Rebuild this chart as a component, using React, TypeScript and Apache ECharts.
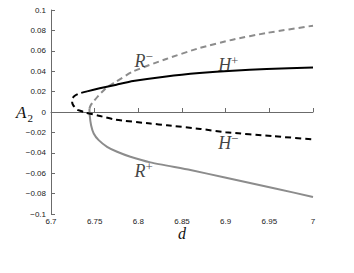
import React, { useEffect, useRef } from "react";
import * as echarts from "echarts";

// H+ branch (black solid)
const hPlusD = [6.7413, 6.7557, 6.775, 6.794, 6.832, 6.87, 6.908, 6.947, 7.0];
const hPlusA = [0.0202, 0.0232, 0.0268, 0.0303, 0.0349, 0.0382, 0.0405, 0.0421, 0.0437];

// H- branch incl. unstable nose (black dashed)
const hMinusD = [6.7413, 6.7317, 6.7265, 6.7242, 6.7242, 6.7255, 6.7299, 6.7336, 6.7394, 6.7546, 6.7737, 6.8138, 6.8328, 6.871, 6.9, 6.954, 7.0];
const hMinusA = [0.0202, 0.018, 0.0155, 0.0125, 0.0098, 0.0065, 0.0023, 0.0012, -0.0006, -0.0036, -0.0075, -0.0113, -0.013, -0.0166, -0.0198, -0.0237, -0.0268];

// R- branch (gray dashed)
const rMinusD = [6.744, 6.7452, 6.7475, 6.7546, 6.7642, 6.7737, 6.794, 6.832, 6.87, 6.908, 6.947, 7.0];
const rMinusA = [0.0033, 0.0062, 0.009, 0.0163, 0.0244, 0.0293, 0.0398, 0.052, 0.0627, 0.0709, 0.0775, 0.0846];

// R+ branch (gray solid)
const rPlusD = [6.744, 6.7443, 6.7459, 6.7489, 6.7546, 6.7642, 6.7757, 6.7909, 6.8138, 6.8597, 6.8978, 6.958, 7.0];
const rPlusA = [0.0033, -0.0032, -0.013, -0.0211, -0.0276, -0.0341, -0.039, -0.0439, -0.0494, -0.0569, -0.064, -0.0752, -0.0833];

// Curve labels
const labelNames = ["R", "H", "H", "R"];
const labelSigns = ["\u2212", "+", "\u2212", "+"];
const labelD = [6.806, 6.903, 6.903, 6.806];
const labelA = [0.0504, 0.0465, -0.0306, -0.058];

const zip = (xs: number[], ys: number[]) => xs.map((x, i) => [x, ys[i]]);

export default function App() {
  const ref = useRef<HTMLDivElement>(null);
  useEffect(() => {
    if (!ref.current) return;
    const chart = echarts.init(ref.current, null, { renderer: "svg" });
    const serif = "Liberation Serif";
    const sans = "Liberation Sans";
    const axisColor = "#6b6b6b";
    chart.setOption({
      animation: false,
      grid: { left: 51, right: 41, top: 10, bottom: 59 },
      xAxis: {
        type: "value",
        min: 6.7,
        max: 7,
        interval: 0.05,
        name: "{i|d}",
        nameLocation: "middle",
        nameGap: 11,
        nameMoveOverlap: false,
        nameTextStyle: {
          rich: { i: { fontFamily: serif, fontStyle: "italic", fontSize: 16, color: "#111" } },
        },
        axisLine: { lineStyle: { color: axisColor, width: 1 } },
        axisTick: { inside: true, length: 4, lineStyle: { color: axisColor } },
        axisLabel: {
          fontFamily: sans,
          fontSize: 8,
          color: "#222",
          margin: 3,
          formatter: (v: number) => String(Math.round(v * 100) / 100),
        },
        splitLine: { show: false },
      },
      yAxis: {
        type: "value",
        min: -0.1,
        max: 0.1,
        interval: 0.02,
        name: "{i|A}{s|2}",
        nameLocation: "middle",
        nameRotate: 0,
        nameGap: 18,
        nameMoveOverlap: false,
        nameTextStyle: {
          rich: {
            i: { fontFamily: serif, fontStyle: "italic", fontSize: 17, color: "#111", lineHeight: 22 },
            s: { fontFamily: serif, fontSize: 11, color: "#111", lineHeight: 10, verticalAlign: "bottom", padding: [0, 0, 0, 1] },
          },
        },
        axisLine: { show: true, lineStyle: { color: axisColor, width: 1 } },
        axisTick: { show: true, inside: true, length: 4, lineStyle: { color: axisColor } },
        axisLabel: {
          fontFamily: sans,
          fontSize: 8,
          color: "#222",
          margin: 5,
          formatter: (v: number) => {
            const r = Math.round(v * 100) / 100;
            return String(r).replace("-", "\u2212");
          },
        },
        splitLine: { show: false },
      },
      series: [
        {
          type: "line",
          data: zip(rMinusD, rMinusA),
          showSymbol: false,
          smooth: 0.2,
          lineStyle: { color: "#8c8c8c", width: 2, type: [6, 4] },
          z: 2,
        },
        {
          type: "line",
          data: zip(rPlusD, rPlusA),
          showSymbol: false,
          smooth: 0.2,
          lineStyle: { color: "#8c8c8c", width: 2 },
          z: 2,
        },
        {
          type: "line",
          data: zip(hMinusD, hMinusA),
          showSymbol: false,
          smooth: 0.2,
          lineStyle: { color: "#000", width: 2, type: [6, 4] },
          z: 3,
        },
        {
          type: "line",
          data: zip(hPlusD, hPlusA),
          showSymbol: false,
          smooth: 0.2,
          lineStyle: { color: "#000", width: 2 },
          z: 3,
        },
        {
          type: "scatter",
          symbolSize: 0,
          silent: true,
          z: 5,
          data: labelD.map((d, i) => ({
            value: [d, labelA[i]],
            label: {
              show: true,
              position: "inside",
              formatter: `{n|${labelNames[i]}}{p|${labelSigns[i]}}`,
              rich: {
                n: { fontFamily: serif, fontStyle: "italic", fontSize: 18, color: "#111", lineHeight: 22 },
                p: { fontFamily: serif, fontSize: 13, color: "#111", lineHeight: 13, verticalAlign: "top" },
              },
            },
          })),
        },
      ],
    });
    return () => chart.dispose();
  }, []);
  return (
    <div
      ref={ref}
      style={{ position: "fixed", left: 0, top: 0, width: 354, height: 273, background: "#fff" }}
    />
  );
}
